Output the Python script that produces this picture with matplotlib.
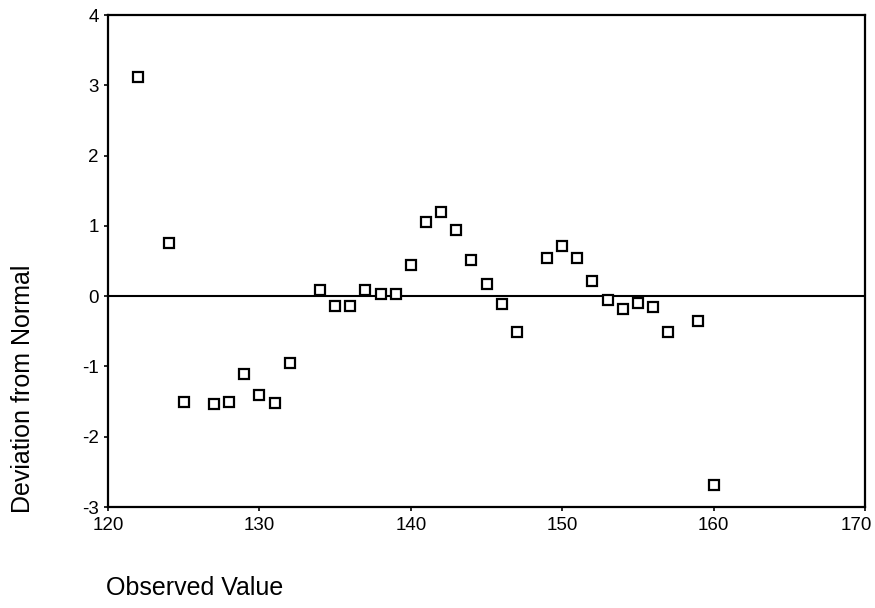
import matplotlib.pyplot as plt
from matplotlib.transforms import ScaledTranslation

# detrended normal Q-Q plot values
observed = [122, 124, 125, 127, 128, 129, 130, 131, 132, 134, 135, 136, 137, 138,
            139, 140, 141, 142, 143, 144, 145, 146, 147, 149, 150, 151, 152, 153,
            154, 155, 156, 157, 159, 160]
deviation = [3.12, 0.75, -1.50, -1.53, -1.50, -1.11, -1.41, -1.52, -0.95, 0.09,
             -0.14, -0.14, 0.09, 0.03, 0.03, 0.44, 1.05, 1.20, 0.94, 0.51, 0.17,
             -0.11, -0.51, 0.54, 0.71, 0.55, 0.21, -0.06, -0.18, -0.10, -0.16,
             -0.51, -0.36, -2.69]
x_ticks = [120, 130, 140, 150, 160, 170]
y_ticks = [-3, -2, -1, 0, 1, 2, 3, 4]

plt.rcParams['font.family'] = ['Liberation Sans', 'DejaVu Sans']
plt.rcParams['axes.unicode_minus'] = False

fig = plt.figure(figsize=(8.75, 6.08), dpi=100)
ax = fig.add_axes([0.1234, 0.166, 0.8652, 0.8093])

ax.axhline(0, color='black', linewidth=1.5, zorder=1)
ax.plot(observed, deviation, linestyle='none', marker='s', markersize=7,
        markerfacecolor='white', markeredgecolor='black', markeredgewidth=1.6, zorder=2)

ax.set_xlim(120, 170)
ax.set_ylim(-3, 4)
ax.set_xticks(x_ticks)
ax.set_yticks(y_ticks)
ax.tick_params(direction='out', length=3, width=1.2, labelsize=13.5, colors='black')
ax.tick_params(axis='x', pad=4)
for s in ax.spines.values():
    s.set_linewidth(1.6)

# last x label sits a bit left so it stays inside the figure
last = ax.get_xticklabels()[-1]
last.set_transform(last.get_transform() + ScaledTranslation(-0.09, 0, fig.dpi_scale_trans))

fig.text(0.026, 0.36, 'Deviation from Normal', rotation=90, ha='center', va='center',
         fontsize=18)
fig.text(0.121, 0.033, 'Observed Value', ha='left', va='center', fontsize=18)

fig.savefig('out.png', dpi=100)
plt.close(fig)
